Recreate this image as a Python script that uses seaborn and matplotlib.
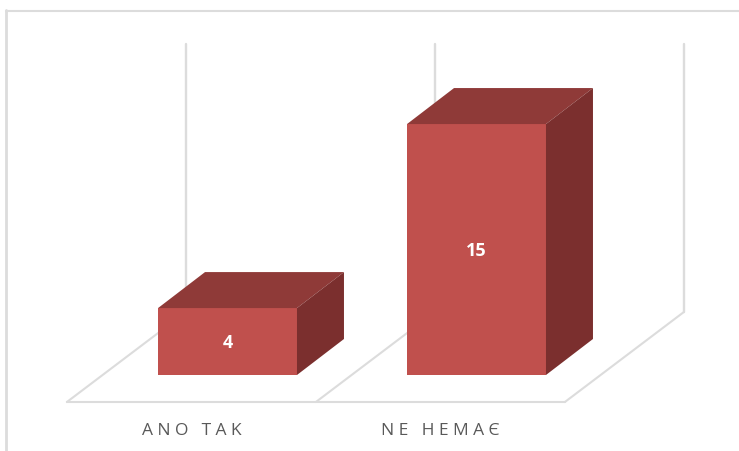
import matplotlib
matplotlib.use("Agg")
import matplotlib.pyplot as plt
import matplotlib.patches as mp
import pandas as pd
import seaborn as sns

categories = ["ANO TAK", "NE НЕМАЄ"]
values = [4, 15]

FRONT = "#C0504D"
TOP = "#8F3A38"
SIDE = "#7B2F2E"
GRID = "#DCDCDC"
W, H = 739, 452

sns.set_theme(style="white")
plt.rcParams["font.family"] = ["Open Sans", "DejaVu Sans"]

fig = plt.figure(figsize=(W / 100, H / 100), dpi=100, facecolor="white")
ax = fig.add_axes([0, 0, 1, 1])

df = pd.DataFrame({"cat": categories, "val": values})
sns.barplot(data=df, x="cat", y="val", color=FRONT, saturation=1, width=0.558,
            ax=ax, zorder=3, linewidth=0)

# pixel -> data scale of the chart frame
ux, uy = 249.0, 16.73
ax.set_xlim(-227.5 / ux, (W - 227.5) / ux)
ax.set_ylim(-(H - 376) / uy, 376 / uy)
ax.axis("off")

dx, dy = 47 / ux, 36 / uy            # depth of the boxes
fdx, fdy = 119 / ux, 90 / uy         # depth of the floor
floor_y = -27 / uy
floor_x = [-0.645, 0.355, 1.355]
top_y = floor_y + fdy + 268 / uy

# floor and walls
lw = 1.5
ax.plot([floor_x[0], floor_x[-1]], [floor_y, floor_y], color=GRID, lw=lw, zorder=1)
for fx in floor_x:
    ax.plot([fx, fx + fdx], [floor_y, floor_y + fdy], color=GRID, lw=lw, zorder=1)
    ax.plot([fx + fdx, fx + fdx], [floor_y + fdy, top_y], color=GRID, lw=lw + 0.2, zorder=1)

# box faces
for bar, v in zip(ax.patches, values):
    x0, x1 = bar.get_x(), bar.get_x() + bar.get_width()
    ax.add_patch(mp.Polygon([(x0, v), (x1, v), (x1 + dx, v + dy), (x0 + dx, v + dy)],
                            closed=True, fc=TOP, ec="none", zorder=3))
    ax.add_patch(mp.Polygon([(x1, 0), (x1 + dx, dy), (x1 + dx, v + dy), (x1, v)],
                            closed=True, fc=SIDE, ec="none", zorder=3))
    ax.text((x0 + x1) / 2, v / 2 - 0.5 / uy, str(v), color="white", fontsize=13, fontweight="bold",
            ha="center", va="center", zorder=4)

# category labels, letter-spaced
for i, c in enumerate(categories):
    ax.text(i - 36 / ux, -(431 - 376) / uy, "\u2005".join(c), color="#595959", fontsize=12.5,
            ha="center", va="center", zorder=4)

# outer chart frame
fig.add_artist(plt.Line2D([6 / W, 6 / W], [0, 1 - 11 / H], color=GRID, lw=2.0))
fig.add_artist(plt.Line2D([6 / W, 739 / W], [1 - 11.5 / H, 1 - 11.5 / H], color=GRID, lw=1.5))

fig.savefig("out.png", dpi=100, facecolor="white")
